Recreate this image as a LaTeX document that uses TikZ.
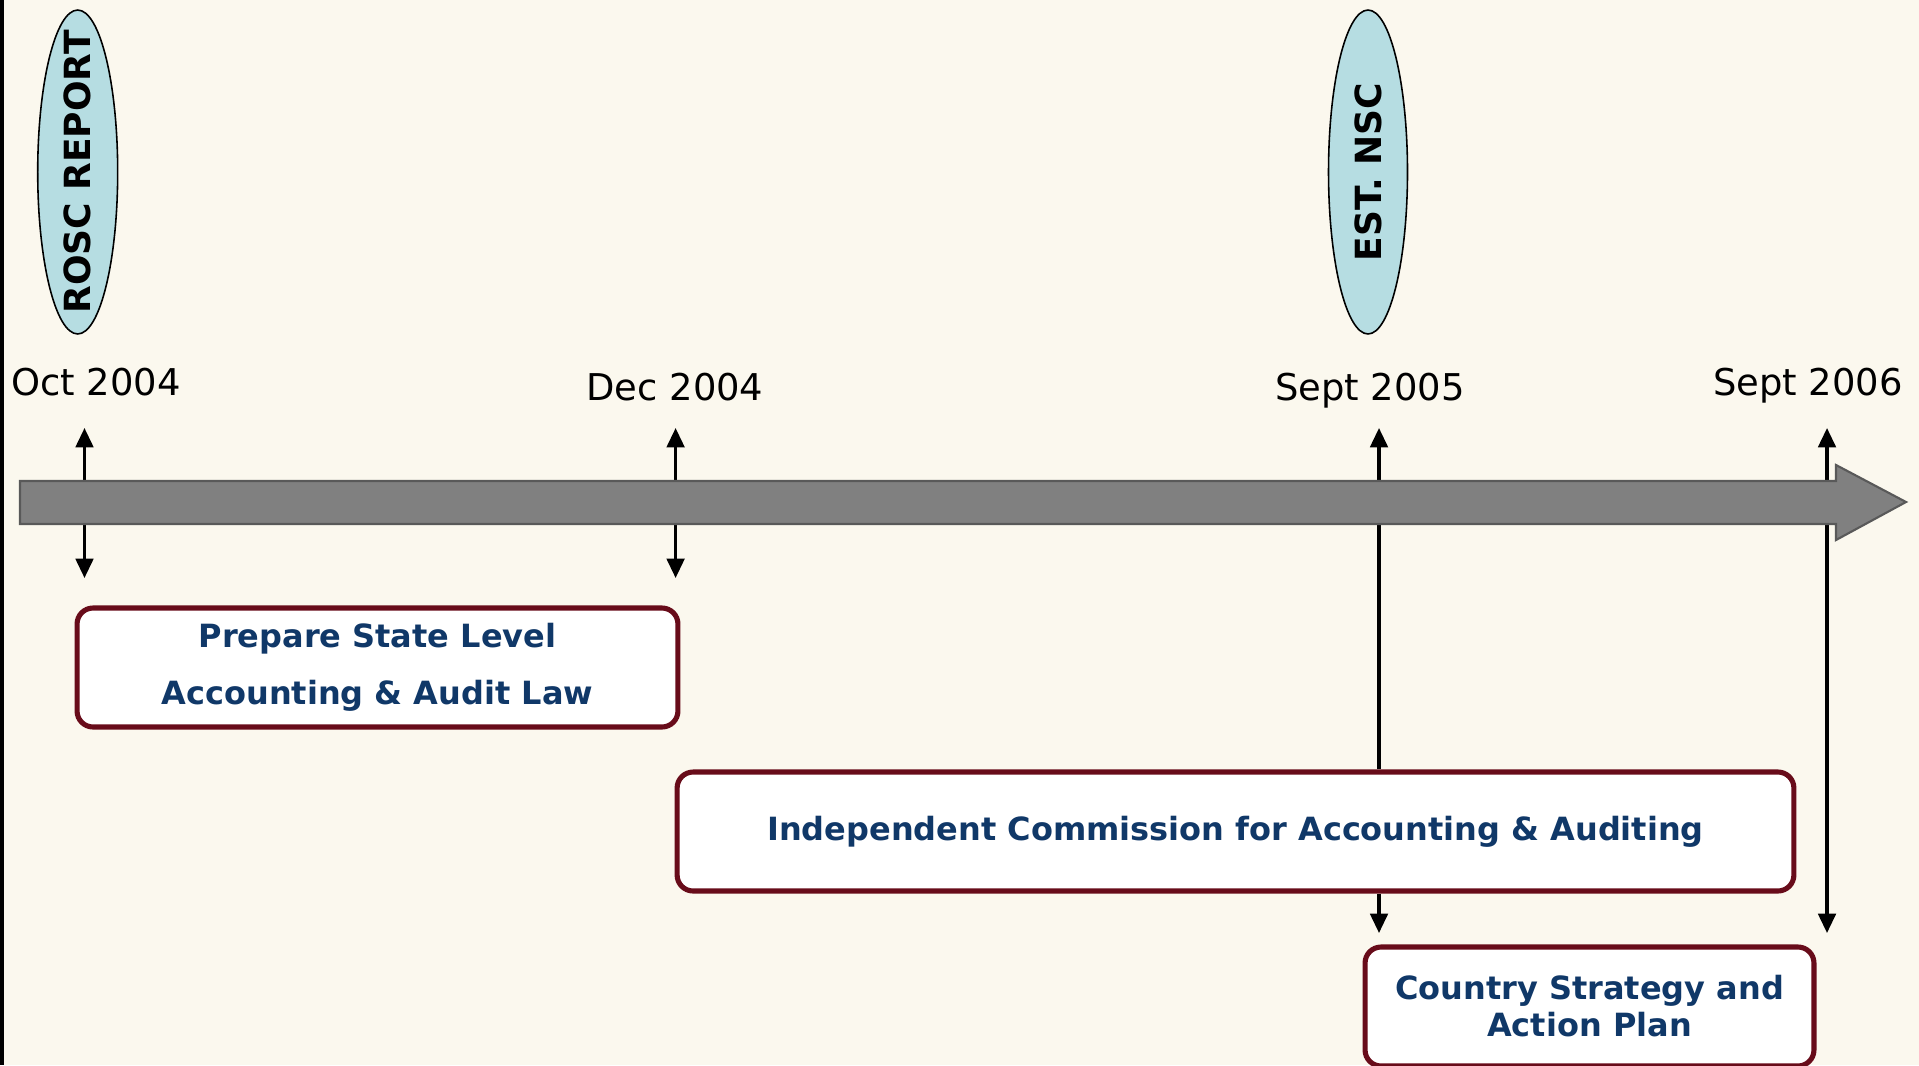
\documentclass[tikz,border=0pt]{standalone}
\usepackage{fontspec}
\setmainfont{DejaVu Sans}
\usetikzlibrary{shapes.geometric,arrows.meta}
\definecolor{bgcol}{RGB}{251,248,238}
\definecolor{ellfill}{RGB}{182,221,226}
\definecolor{boxborder}{RGB}{104,12,26}
\definecolor{navy}{RGB}{16,56,104}
\definecolor{bargray}{RGB}{128,128,128}
\begin{document}
\begin{tikzpicture}[x=0.02cm,y=-0.02cm,
  ell/.style={ellipse,draw=black,line width=0.9pt,fill=ellfill,inner sep=0pt,
    minimum width=1.6cm,minimum height=6.48cm},
  elltext/.style={rotate=90,inner sep=0pt,font=\fontsize{20.5}{24}\selectfont\bfseries},
  datelbl/.style={font=\fontsize{21}{25}\selectfont,text=black,inner sep=0pt,anchor=base},
  stagebox/.style={draw=boxborder,line width=2.9pt,fill=white,rounded corners=0.32cm,
    minimum height=2.38cm,inner sep=0pt,align=center,text=navy,
    font=\fontsize{18.2}{21}\selectfont\bfseries},
  tick/.style={line width=1.8pt,draw=black},
  tip/.style={-{Triangle[width=10pt,length=11pt]}},
  both/.style={{Triangle[width=10pt,length=11pt]}-{Triangle[width=10pt,length=11pt]}},
]
\useasboundingbox (0,0) rectangle (1919,1065);
\fill[bgcol] (0,0) rectangle (1919,1065);
\draw[line width=2pt,black] (2,0) -- (2,1065);

% coordinates for the time markers
\coordinate (t1) at (84.5,428);  \coordinate (b1) at (84.5,578);
\coordinate (t2) at (675.6,428); \coordinate (b2) at (675.6,578);
\coordinate (t3) at (1379,428);  \coordinate (m3) at (1379,502); \coordinate (b3) at (1379,933);
\coordinate (t4) at (1827,428);  \coordinate (b4) at (1827,933);

% boxes
\node[stagebox,minimum width=12.02cm,font=\fontsize{18.2}{32.4}\selectfont\bfseries] (law) at (377.5,667.5)
  {Prepare State Level\\Accounting \& Audit Law};
\node[stagebox,minimum width=22.34cm] (indep) at (1235.5,831.5)
  {Independent Commission for Accounting \& Auditing};
\node[stagebox,minimum width=8.98cm,font=\fontsize{18.2}{21}\selectfont\bfseries] (plan) at (1589.5,1006.5)
  {Country Strategy and\\Action Plan};

% markers
\draw[tick,both] (t1) -- (b1);
\draw[tick,both] (t2) -- (b2);
\draw[tick,tip] (m3) -- (t3);
\draw[tick] (m3) -- (m3 |- indep.north);
\draw[tick,tip] (m3 |- indep.south) -- (b3);
\draw[tick,both] (t4) -- (b4);

% time bar
\draw[fill=bargray,draw=black!65,line width=1.2pt]
  (20,481) -- (1836,481) -- (1836,465) -- (1906,502) -- (1836,540) -- (1836,524) -- (20,524) -- cycle;

% milestones
\node[ell] (rosc) at (77.7,172) {};
\node[elltext] (rosct) at (rosc.center) {ROSC REPORT};
\node[ell,minimum width=1.58cm] (nsc) at (1368,172) {};
\node[elltext] (nsct) at (nsc.center) {EST. NSC};

% dates
\node[datelbl] (d1) at (96,395) {Oct 2004};
\node[datelbl] (d2) at (675,400) {Dec 2004};
\node[datelbl] (d3) at (1370,400) {Sept 2005};
\node[datelbl] (d4) at (1808,395) {Sept 2006};
\end{tikzpicture}
\end{document}
